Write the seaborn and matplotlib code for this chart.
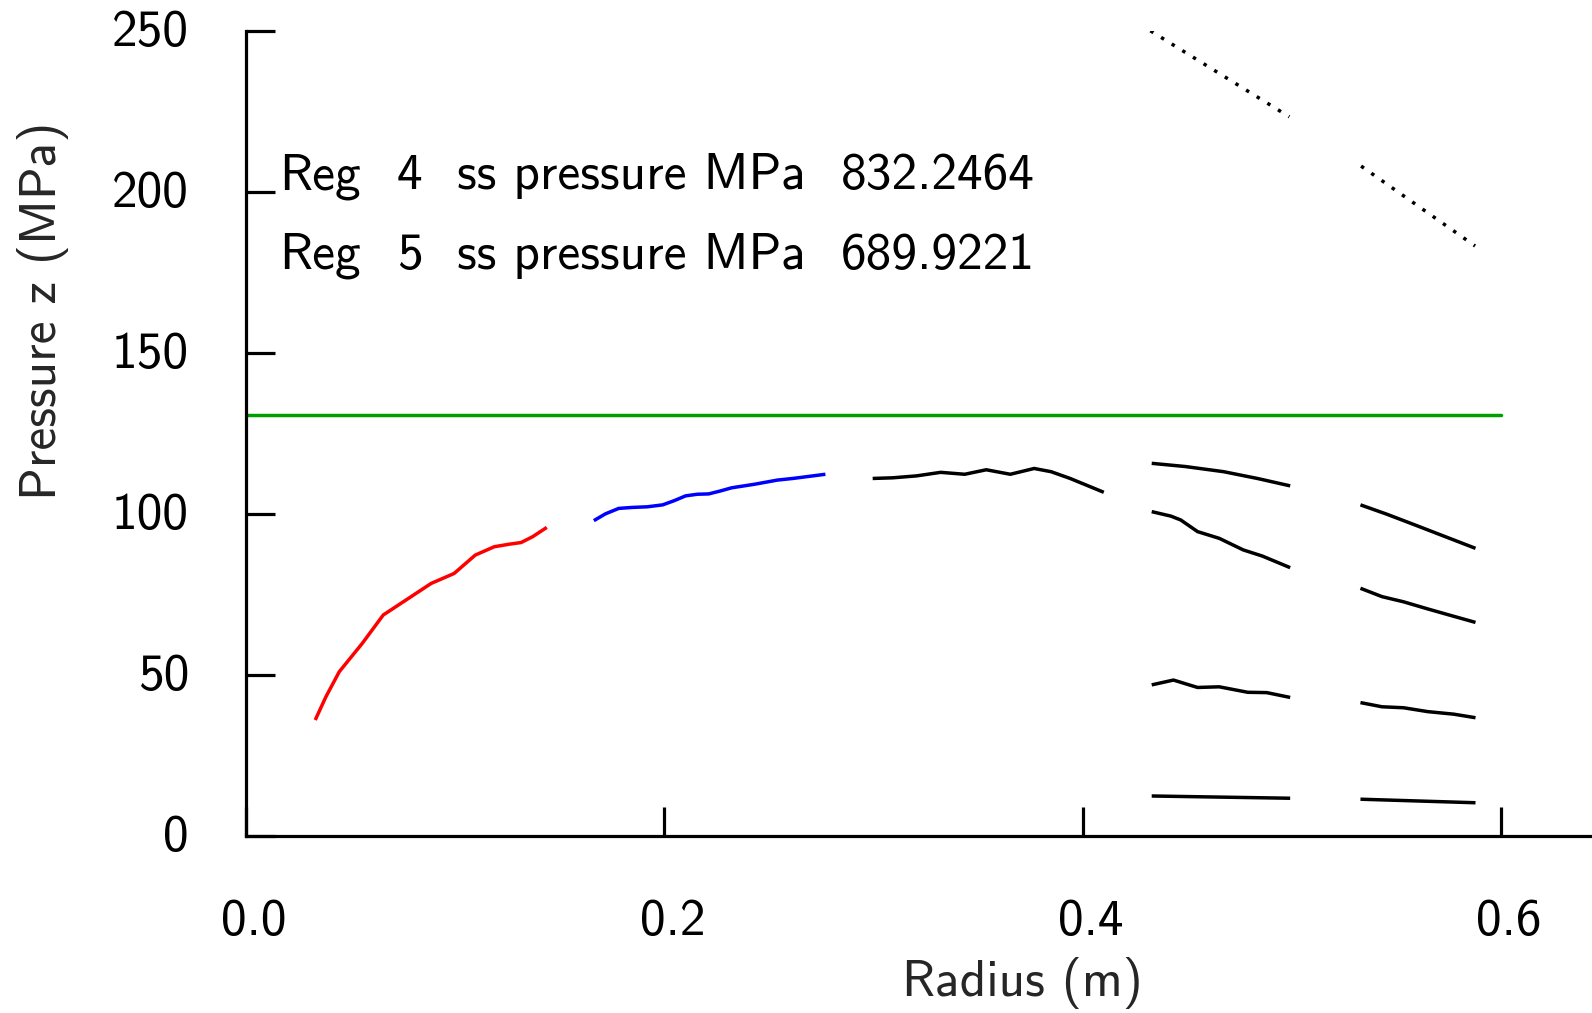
import numpy as np
import pandas as pd
import matplotlib
matplotlib.use("Agg")
import matplotlib.pyplot as plt
import matplotlib.transforms as mtransforms
import seaborn as sns

# ---------------- data ----------------
red_x = [0.0331, 0.0382, 0.0446, 0.0556, 0.0656, 0.0766, 0.0885, 0.0995,
         0.1096, 0.1187, 0.1260, 0.1315, 0.1370, 0.1438]
red_y = [35.9, 43.1, 50.9, 59.7, 68.5, 73.2, 78.3, 81.4,
         87.1, 89.7, 90.5, 91.0, 92.8, 95.7]

blue_x = [0.1663, 0.1718, 0.1782, 0.1846, 0.1919, 0.1992, 0.2047, 0.2102,
          0.2158, 0.2212, 0.2267, 0.2322, 0.2431, 0.2541, 0.2614, 0.2770]
blue_y = [97.8, 99.9, 101.6, 101.9, 102.1, 102.7, 104.0, 105.5,
          106.0, 106.1, 107.0, 108.0, 109.1, 110.4, 110.9, 112.2]

black1_x = [0.2996, 0.3092, 0.3206, 0.3321, 0.3436, 0.3539, 0.3654, 0.3768,
            0.3849, 0.3940, 0.4101]
black1_y = [110.9, 111.1, 111.7, 112.8, 112.2, 113.6, 112.2, 114.0,
            113.0, 110.9, 106.6]

a1_x = [0.4330, 0.4491, 0.4674, 0.4835, 0.4992]
a1_y = [115.6, 114.6, 113.0, 110.9, 108.6]
a2_x = [0.4330, 0.4422, 0.4469, 0.4549, 0.4653, 0.4768, 0.4859, 0.4992]
a2_y = [100.6, 99.2, 98.0, 94.4, 92.3, 88.7, 86.8, 83.2]
a3_x = [0.4330, 0.4434, 0.4549, 0.4653, 0.4789, 0.4880, 0.4992]
a3_y = [46.8, 48.3, 46.0, 46.2, 44.5, 44.4, 42.9]
a4_x = [0.4330, 0.4992]
a4_y = [12.3, 11.6]

b1_x = [0.5328, 0.5454, 0.5591, 0.5878]
b1_y = [102.7, 99.8, 96.4, 89.2]
b2_x = [0.5328, 0.5431, 0.5534, 0.5649, 0.5752, 0.5878]
b2_y = [76.8, 74.2, 72.6, 70.4, 68.5, 66.2]
b3_x = [0.5328, 0.5431, 0.5534, 0.5649, 0.5775, 0.5878]
b3_y = [41.3, 40.0, 39.7, 38.5, 37.7, 36.6]
b4_x = [0.5328, 0.5878]
b4_y = [11.3, 10.2]

dot1_x = [0.4324, 0.4988]
dot1_y = [249.9, 223.2]
dot2_x = [0.5331, 0.5876]
dot2_y = [207.9, 183.1]

limit_x = [0.0, 0.6]
limit_y = [130.5, 130.5]

x_ticks = [0.0, 0.2, 0.4, 0.6]
x_tick_labels = ["0.0", "0.2", "0.4", "0.6"]
y_ticks = [0, 50, 100, 150, 200, 250]
y_tick_labels = ["0", "50", "100", "150", "200", "250"]

reg_ids = ["4", "5"]
reg_values = ["832.2464", "689.9221"]

# ---------------- style ----------------
sns.set_style("ticks")
plt.rcParams["font.family"] = ["cmss10", "DejaVu Sans"]
plt.rcParams["axes.unicode_minus"] = False
plt.rcParams["axes.formatter.use_mathtext"] = False

FS = 37
fig = plt.figure(figsize=(15.92, 10.13), dpi=100)
ax = fig.add_axes([246 / 1592, 1 - 835.6 / 1013, 1346 / 1592, 805.1 / 1013])

LW = 2.5
solid = [
    (red_x, red_y, "#ff0000"),
    (blue_x, blue_y, "#0000ff"),
    (black1_x, black1_y, "black"),
    (a1_x, a1_y, "black"), (a2_x, a2_y, "black"),
    (a3_x, a3_y, "black"), (a4_x, a4_y, "black"),
    (b1_x, b1_y, "black"), (b2_x, b2_y, "black"),
    (b3_x, b3_y, "black"), (b4_x, b4_y, "black"),
]
for xs, ys, c in solid:
    sns.lineplot(x=xs, y=ys, color=c, linewidth=LW, ax=ax, legend=False)
    ax.lines[-1].set_solid_joinstyle("round")
    ax.lines[-1].set_solid_capstyle("butt")

for xs, ys in [(dot1_x, dot1_y), (dot2_x, dot2_y)]:
    sns.lineplot(x=xs, y=ys, color="black", linewidth=LW, ax=ax,
                 legend=False, dashes=False)
    ax.lines[-1].set_dashes([1, 2.6])

sns.lineplot(x=limit_x, y=limit_y, color="#009f00", linewidth=LW, ax=ax, legend=False)

ax.set_xlim(0, (1592 - 246) / 2091.7)
ax.set_ylim(0, 250)

sns.despine(ax=ax, top=True, right=True)
for s in ["left", "bottom"]:
    ax.spines[s].set_linewidth(2.3)
    ax.spines[s].set_color("black")

ax.set_xticks(x_ticks)
ax.set_xticklabels(x_tick_labels)
ax.set_yticks(y_ticks)
ax.set_yticklabels(y_tick_labels)
ax.tick_params(axis="both", direction="in", length=21, width=2.3,
               labelsize=FS, colors="black")
ax.tick_params(axis="x", pad=46)
ax.tick_params(axis="y", pad=41)
ax.minorticks_off()

offset_x = mtransforms.ScaledTranslation(8 / 100, 0, fig.dpi_scale_trans)
for lab in ax.get_xticklabels():
    lab.set_transform(lab.get_transform() + offset_x)
offset_y = mtransforms.ScaledTranslation(0, 2.5 / 100, fig.dpi_scale_trans)
for lab in ax.get_yticklabels():
    lab.set_transform(lab.get_transform() + offset_y)

ax.set_xlabel("Radius (m)", fontsize=FS)
ax.set_ylabel("Pressure z (MPa)", fontsize=FS)
ax.xaxis.set_label_coords(0.5766, -0.151)
ax.yaxis.set_label_coords(-0.1315, 0.6516)

# annotation lines
col_x = [0.0248, 0.1122, 0.1567, 0.4418]
row_y = [0.803, 0.704]
for i in range(2):
    parts = ["Reg", reg_ids[i], "ss pressure MPa", reg_values[i]]
    for px, txt in zip(col_x, parts):
        ax.text(px, row_y[i], txt, transform=ax.transAxes, fontsize=FS,
                ha="left", va="baseline", color="black")

ax.set_facecolor("white")
fig.patch.set_facecolor("white")
fig.savefig("out.png", dpi=100, facecolor="white")
